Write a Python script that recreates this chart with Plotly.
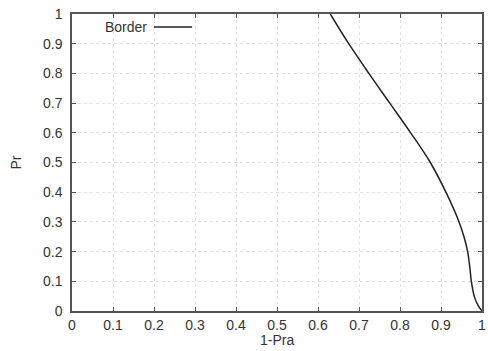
import plotly.graph_objects as go

# Data
one_minus_pra = [0.630, 0.675, 0.724, 0.775, 0.826, 0.874, 0.912, 0.944, 0.956,
                 0.965, 0.970, 0.974, 0.981, 0.990, 1.0]
pr = [1.0, 0.9, 0.8, 0.7, 0.6, 0.5, 0.4, 0.3, 0.25,
      0.2, 0.15, 0.1, 0.05, 0.02, 0.0]

series_name = "Border"
x_ticks = [0, 0.1, 0.2, 0.3, 0.4, 0.5, 0.6, 0.7, 0.8, 0.9, 1]
x_tick_text = ["0", "0.1", "0.2", "0.3", "0.4", "0.5", "0.6", "0.7", "0.8", "0.9", "1"]
y_ticks = [0, 0.1, 0.2, 0.3, 0.4, 0.5, 0.6, 0.7, 0.8, 0.9, 1]
y_tick_text = ["0", "0.1", "0.2", "0.3", "0.4", "0.5", "0.6", "0.7", "0.8", "0.9", "1"]
x_title = "1-Pra"
y_title = "Pr"

font_family = "Liberation Sans, Arial, sans-serif"
text_color = "#333333"

fig = go.Figure()
fig.add_trace(go.Scatter(
    x=one_minus_pra, y=pr, mode="lines", name=series_name,
    line=dict(color="#222222", width=1.5, shape="spline", smoothing=1.0),
    showlegend=False, hoverinfo="skip",
))

axis_common = dict(
    showline=True, linecolor="#555555", linewidth=1.5, mirror="ticks",
    ticks="inside", ticklen=4, tickcolor="#555555", tickwidth=1.2,
    showgrid=True, gridcolor="#e2e2e2", griddash="dot", gridwidth=1,
    zeroline=False, tickfont=dict(size=14, color=text_color),
    automargin=False,
)

fig.update_layout(
    width=488, height=351,
    margin=dict(l=72, r=6, t=14, b=40),
    paper_bgcolor="white", plot_bgcolor="white",
    font=dict(family=font_family, size=14, color=text_color),
    xaxis=dict(range=[0, 1], tickvals=x_ticks, ticktext=x_tick_text,
               ticklabelstandoff=0, **axis_common),
    yaxis=dict(range=[0, 1], tickvals=y_ticks, ticktext=y_tick_text,
               ticklabelstandoff=5, **axis_common),
)

# axis titles
fig.add_annotation(x=0.50, y=-0.096, xref="paper", yref="paper", text=x_title,
                   showarrow=False, xanchor="center", yanchor="middle",
                   font=dict(size=14, color=text_color))
fig.add_annotation(x=-0.139, y=0.5, xref="paper", yref="paper", text=y_title,
                   showarrow=False, xanchor="center", yanchor="middle", textangle=-90,
                   font=dict(size=14, color=text_color))

# gnuplot-style legend: label then sample line
fig.add_annotation(x=0.076, y=0.956, xref="paper", yref="paper", text=series_name,
                   showarrow=False, xanchor="left", yanchor="middle",
                   font=dict(size=14, color=text_color))
fig.add_shape(type="line", xref="paper", yref="paper", x0=0.2, x1=0.293, y0=0.956, y1=0.956,
              line=dict(color="#222222", width=1.5))

fig.write_html("out.html", config={"displayModeBar": False},
               post_script="document.body.style.margin='0';")
